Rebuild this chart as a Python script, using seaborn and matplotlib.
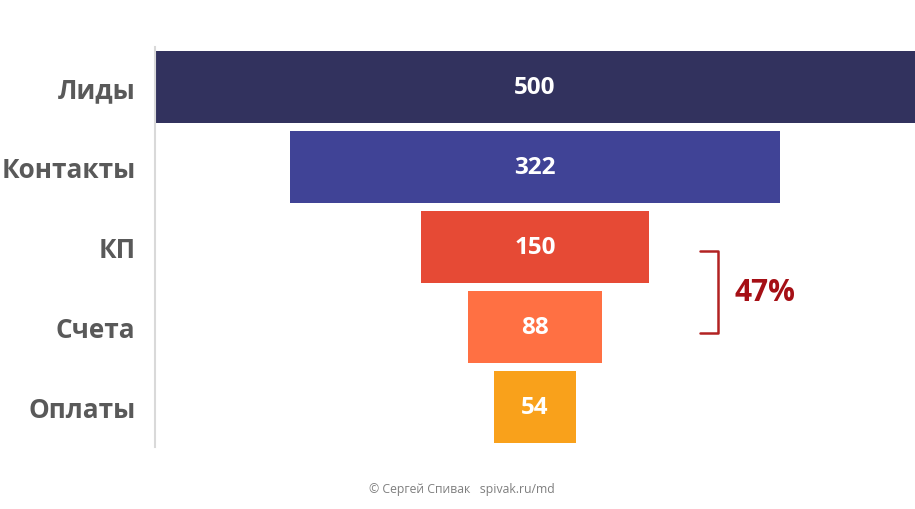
import matplotlib
matplotlib.use('Agg')
import matplotlib.pyplot as plt
import seaborn as sns

stages = ['Лиды', 'Контакты', 'КП', 'Счета', 'Оплаты']
counts = [500, 322, 150, 88, 54]
colors = ['#32325E', '#404396', '#E64A35', '#FF7043', '#F9A11B']
conversion = '47%'
footer = '© Сергей Спивак   spivak.ru/md'

sns.set_theme(style='white')
plt.rcParams['font.family'] = ['Open Sans', 'DejaVu Sans']

fig = plt.figure(figsize=(9.15, 5.1), dpi=100)
ax = fig.add_axes([155 / 915, 1 - 448 / 510, 1 - 155 / 915, 400 / 510])

sns.barplot(x=counts, y=stages, hue=stages, palette=colors, orient='h',
            width=0.91, legend=False, ax=ax, saturation=1)

# center the bars to get the funnel shape
for p in ax.patches:
    p.set_x(-p.get_width() / 2)
    p.set_edgecolor('none')

for i, v in enumerate(counts):
    ax.text(0, i, str(v), ha='center', va='center', color='white',
            fontsize=17.5, fontweight='bold')

ax.set_xlim(-250, 250)
ax.set_ylim(4.5, -0.5)
ax.set_xticks([])
ax.tick_params(axis='y', length=0, pad=14)
for lbl in ax.get_yticklabels():
    lbl.set_fontsize(18.8)
    lbl.set_fontweight('bold')
    lbl.set_color('#595959')

for s in ['top', 'right', 'bottom']:
    ax.spines[s].set_visible(False)
ax.spines['left'].set_color('#D9D9D9')
ax.spines['left'].set_linewidth(1.5)

# bracket between КП and Счета
bx0, bx1 = 108.5, 120.5
by0, by1 = 2.05, 3.08
ax.plot([bx0, bx1, bx1, bx0], [by0, by0, by1, by1], color='#B22222',
        lw=1.8, solid_joinstyle='round', clip_on=False)
ax.text(131, (by0 + by1) / 2, conversion, ha='left', va='center',
        color='#A50F15', fontsize=21.5, fontweight='bold')

fig.text(462 / 915, 1 - 490 / 510, footer, ha='center', va='center',
         fontsize=8.8, color='#7F7F7F')

fig.savefig('out.png', dpi=100, facecolor='white')
